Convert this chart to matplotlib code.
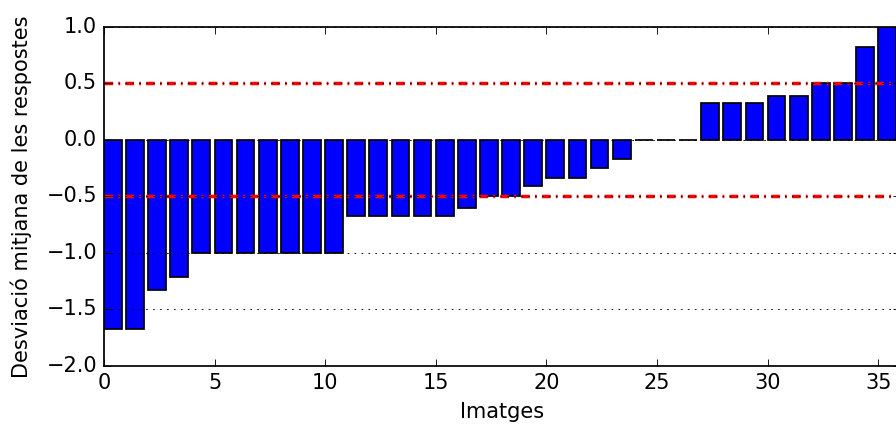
import numpy as np
import matplotlib
matplotlib.use('Agg')
import matplotlib.pyplot as plt

plt.style.use('classic')

# Mean deviation of answers per image (sorted)
images = np.arange(36)
deviation = [-1.67, -1.67, -1.33, -1.21, -1.0, -1.0, -1.0, -1.0, -1.0, -1.0,
             -1.0, -0.67, -0.67, -0.67, -0.67, -0.67, -0.6, -0.5, -0.5, -0.41,
             -0.34, -0.34, -0.25, -0.17, 0.0, 0.0, 0.0, 0.33, 0.33, 0.33,
             0.39, 0.39, 0.5, 0.5, 0.82, 1.0]
thresholds = [0.5, -0.5]

dpi = 125
fig = plt.figure(figsize=(896 / dpi, 428 / dpi), dpi=dpi)
fig.patch.set_facecolor('white')
# right spine sits just past the figure edge, as in the original crop
ax = fig.add_axes([0.116, 0.145, 0.889, 0.792])

ax.bar(images, deviation, width=0.8, align='edge', color='b', edgecolor='k')
for t in thresholds:
    ax.axhline(t, color='r', linestyle='-.', linewidth=2, dashes=(5, 3, 1, 3))

ax.yaxis.grid(True)
ax.set_xlim(0, 36)
ax.set_ylim(-2.0, 1.0)
ax.set_xlabel('Imatges')
ax.set_ylabel('Desviació mitjana de les respostes', labelpad=8.5)

plt.savefig('out.png', dpi=dpi, facecolor='white')
